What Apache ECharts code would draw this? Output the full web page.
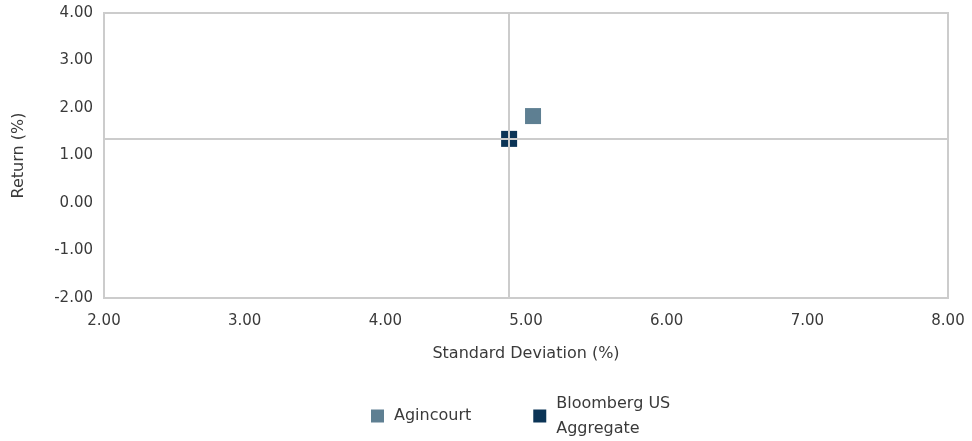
<!DOCTYPE html>
<html>
<head>
<meta charset="utf-8">
<script src="https://cdn.jsdelivr.net/npm/echarts@6/dist/echarts.min.js"></script>
<style>
  html, body { margin: 0; padding: 0; background: #fff; }
  #chart { width: 972px; height: 441px; }
</style>
</head>
<body>
<div id="chart"></div>
<script>
// Risk / return points: [standard deviation %, return %]
const seriesNames = ['Agincourt', 'Bloomberg US Aggregate'];
const agincourt = [[5.05, 1.83]];
const bloombergAgg = [[4.88, 1.35]];
const xTicks = { min: 2, max: 8, interval: 1 };
const yTicks = { min: -2, max: 4, interval: 1 };
const colors = ['#5E7F92', '#0B3456'];

const font = '"DejaVu Sans", sans-serif';
const textColor = '#3a3a3a';
const chart = echarts.init(document.getElementById('chart'));

chart.setOption({
  animation: false,
  textStyle: { fontFamily: font },
  grid: { left: 104, right: 24, top: 13, bottom: 143, show: true, borderColor: '#cccccc', borderWidth: 2 },
  xAxis: {
    type: 'value',
    min: xTicks.min, max: xTicks.max, interval: xTicks.interval,
    name: 'Standard Deviation (%)',
    nameLocation: 'middle', nameGap: 48,
    nameTextStyle: { fontSize: 16, color: textColor, fontFamily: font },
    axisLine: { show: false }, axisTick: { show: false }, splitLine: { show: false },
    axisLabel: { fontSize: 15, color: textColor, margin: 16, formatter: v => v.toFixed(2), fontFamily: font }
  },
  yAxis: {
    type: 'value',
    min: yTicks.min, max: yTicks.max, interval: yTicks.interval,
    name: 'Return (%)',
    nameLocation: 'middle', nameGap: 77, nameRotate: 90,
    nameTextStyle: { fontSize: 16, color: textColor, fontFamily: font },
    axisLine: { show: false }, axisTick: { show: false }, splitLine: { show: false },
    axisLabel: { fontSize: 15, color: textColor, margin: 11, formatter: v => v.toFixed(2), fontFamily: font }
  },
  legend: {
    top: 386, left: 366, itemGap: 62,
    itemWidth: 13, itemHeight: 13,
    icon: 'rect',
    textStyle: { fontSize: 16, color: textColor, lineHeight: 25, fontFamily: font, padding: [0, 0, 0, 5] },
    formatter: name => name === seriesNames[1] ? 'Bloomberg US\nAggregate' : name,
    data: seriesNames
  },
  series: [
    {
      name: seriesNames[0], type: 'scatter', symbol: 'rect', symbolSize: 16,
      itemStyle: { color: colors[0], opacity: 1 }, data: agincourt, z: 3
    },
    {
      name: seriesNames[1], type: 'scatter', symbol: 'rect', symbolSize: 16,
      itemStyle: { color: colors[1], opacity: 1 }, data: bloombergAgg, z: 3,
      markLine: {
        silent: true, symbol: 'none', z: 4,
        lineStyle: { color: '#cccccc', width: 2, type: 'solid' },
        label: { show: false },
        data: [{ xAxis: bloombergAgg[0][0] }, { yAxis: bloombergAgg[0][1] }]
      }
    }
  ]
});
</script>
</body>
</html>
